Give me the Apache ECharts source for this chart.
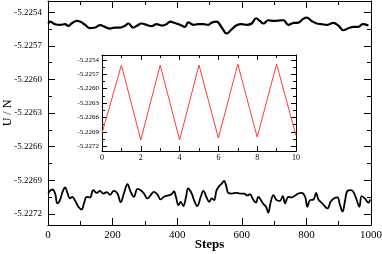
<!DOCTYPE html>
<html><head><meta charset="utf-8">
<script src="https://cdn.jsdelivr.net/npm/echarts@6/dist/echarts.min.js"></script>
<style>html,body{margin:0;padding:0;background:#fff}#c{width:382px;height:254px}</style>
</head><body><div id="c"></div>
<script>
// ---- data ----
const stepsTop = [1,6,22,37,53,63,73,89,99,115,130,146,161,176,192,207,223,238,249,264,275,290,305,321,336,352,367,378,393,409,424,434,450,465,481,496,507,522,538,553,569,584,600,615,631,644,656,667,682,698,713,729,744,760,775,790,801,816,832,847,863,883,899,914,930,945,961,974,992];
const uTop = [-5.225501,-5.225484,-5.225507,-5.225513,-5.225507,-5.225522,-5.225501,-5.225478,-5.225484,-5.225513,-5.225543,-5.225537,-5.225516,-5.225531,-5.225546,-5.225537,-5.225537,-5.225522,-5.225501,-5.225537,-5.225522,-5.225501,-5.225513,-5.225525,-5.225507,-5.225519,-5.225507,-5.225484,-5.225496,-5.225513,-5.225531,-5.225490,-5.225513,-5.225507,-5.225507,-5.225513,-5.225493,-5.225484,-5.225537,-5.225590,-5.225552,-5.225516,-5.225507,-5.225513,-5.225501,-5.225454,-5.225478,-5.225501,-5.225472,-5.225478,-5.225475,-5.225472,-5.225513,-5.225496,-5.225493,-5.225460,-5.225448,-5.225478,-5.225501,-5.225507,-5.225513,-5.225496,-5.225519,-5.225561,-5.225543,-5.225531,-5.225531,-5.225507,-5.225519];
const stepsBottom = [1,6,14,22,29,37,45,53,60,68,75,84,94,104,112,120,130,140,151,161,171,182,192,204,215,225,235,246,256,266,277,287,297,308,318,328,338,349,359,373,383,390,396,404,411,419,427,434,445,452,462,473,481,491,499,507,514,522,530,538,545,551,558,569,584,594,607,617,625,635,644,651,658,667,675,682,689,698,708,718,727,734,744,754,765,775,785,796,803,811,822,830,837,844,854,865,875,885,896,904,912,919,927,937,945,954,964,971,981,992,997];
const uBottom = [-5.227019,-5.226995,-5.226983,-5.227019,-5.227107,-5.227078,-5.227004,-5.226965,-5.227013,-5.227063,-5.227048,-5.227084,-5.227137,-5.227161,-5.227101,-5.227048,-5.227054,-5.226989,-5.227013,-5.226995,-5.227019,-5.227007,-5.227030,-5.226995,-5.227019,-5.227096,-5.227019,-5.226936,-5.227004,-5.227048,-5.226977,-5.226989,-5.227019,-5.227063,-5.227033,-5.227004,-5.227024,-5.227072,-5.227048,-5.227036,-5.227024,-5.227001,-5.227048,-5.227122,-5.227093,-5.227131,-5.227054,-5.226974,-5.227019,-5.227078,-5.227131,-5.227048,-5.226995,-5.227054,-5.227093,-5.227063,-5.227078,-5.226989,-5.226953,-5.226930,-5.226906,-5.226944,-5.227013,-5.227019,-5.227013,-5.227019,-5.227019,-5.227036,-5.227024,-5.227072,-5.227101,-5.227048,-5.227072,-5.227113,-5.227137,-5.227190,-5.227101,-5.227033,-5.227078,-5.227084,-5.227042,-5.227107,-5.227048,-5.227054,-5.227036,-5.227019,-5.227013,-5.227048,-5.227137,-5.227078,-5.227072,-5.227013,-5.227072,-5.227093,-5.227122,-5.227152,-5.227093,-5.227063,-5.227054,-5.227122,-5.227181,-5.227093,-5.226995,-5.226989,-5.227004,-5.227063,-5.227137,-5.227042,-5.227063,-5.227101,-5.227072];
const insetX = [0,1,2,3,4,5,6,7,8,9,10];
const insetU = [-5.22693,-5.22551,-5.22707,-5.22551,-5.22707,-5.22551,-5.22703,-5.22549,-5.22701,-5.22549,-5.22698];
const yTickLabels = ['-5.2254','-5.2257','-5.2260','-5.2263','-5.2266','-5.2269','-5.2272'];
const yMin = -5.2273, yMax = -5.2253;

// ---- build ----
const majors = yTickLabels.map(Number);
const minors = majors.map(v => v - 0.00015).concat([majors[0] + 0.00015]).filter(v => v > yMin && v < yMax);
const FONT = 'Liberation Serif';
const black = '#000';

function xAx(grid, pos, max, interval, showLabel, fs) {
  return {
    type: 'value', gridIndex: grid, position: pos, min: 0, max: max, interval: interval,
    axisLine: {show: true, onZero: false, lineStyle: {color: black, width: 1}},
    axisTick: {show: true, inside: true, length: grid === 0 ? 7 : 5, lineStyle: {color: black}},
    minorTick: {show: true, splitNumber: 2, length: grid === 0 ? 4 : 3, lineStyle: {color: black}},
    splitLine: {show: false}, minorSplitLine: {show: false},
    axisLabel: {show: showLabel, color: black, fontFamily: FONT, fontSize: fs, margin: grid === 0 ? 5 : 3,
      formatter: v => String(v)}
  };
}
function yAx(grid, pos, vals, len, showLabel, showLine, fs, extra) {
  return Object.assign({
    type: 'value', gridIndex: grid, position: pos, min: yMin, max: yMax,
    axisLine: {show: showLine, onZero: false, lineStyle: {color: black, width: 1}},
    axisTick: {show: true, inside: true, length: len, customValues: vals, lineStyle: {color: black}},
    splitLine: {show: false},
    axisLabel: {show: showLabel, customValues: vals, color: black, fontFamily: FONT, fontSize: fs,
      margin: grid === 0 ? 6 : 3, formatter: v => v.toFixed(4)}
  }, extra || {});
}

const option = {
  animation: false,
  backgroundColor: '#fff',
  grid: [
    {left: 48, right: 11, top: 1, bottom: 29, outerBoundsMode: 'none', containLabel: false},
    {left: 102, top: 55, width: 194, height: 96, outerBoundsMode: 'none', containLabel: false}
  ],
  xAxis: [
    Object.assign(xAx(0, 'bottom', 1000, 200, true, 11), {name: 'Steps', nameLocation: 'middle', nameGap: 13,
      nameMoveOverlap: false,
      nameTextStyle: {fontFamily: FONT, fontSize: 13, fontWeight: 'bold', color: black, verticalAlign: 'top'}}),
    xAx(0, 'top', 1000, 200, false, 11),
    xAx(1, 'bottom', 10, 2, true, 8),
    xAx(1, 'top', 10, 2, false, 8)
  ],
  yAxis: [
    yAx(0, 'left', majors, 7, true, true, 9, {name: 'U / N', nameLocation: 'middle', nameGap: 34, nameRotate: 90,
      nameMoveOverlap: false,
      nameTextStyle: {fontFamily: FONT, fontSize: 12, color: black}}),
    yAx(0, 'left', minors, 4, false, false, 9),
    yAx(0, 'right', majors, 7, false, true, 9),
    yAx(0, 'right', minors, 4, false, false, 9),
    yAx(1, 'left', majors, 5, true, true, 7),
    yAx(1, 'left', minors, 3, false, false, 7),
    yAx(1, 'right', majors, 5, false, true, 7),
    yAx(1, 'right', minors, 3, false, false, 7)
  ],
  series: [
    {type: 'line', xAxisIndex: 0, yAxisIndex: 0, data: stepsTop.map((s, i) => [s, uTop[i]]),
      showSymbol: false, smooth: 0.4, lineStyle: {color: black, width: 2.2}},
    {type: 'line', xAxisIndex: 0, yAxisIndex: 0, data: stepsBottom.map((s, i) => [s, uBottom[i]]),
      showSymbol: false, smooth: 0.4, lineStyle: {color: black, width: 1.8}},
    {type: 'line', xAxisIndex: 2, yAxisIndex: 4, data: insetX.map((s, i) => [s, insetU[i]]),
      showSymbol: false, lineStyle: {color: '#ff3a3a', width: 1}}
  ]
};
const chart = echarts.init(document.getElementById('c'), null, {renderer: 'canvas'});
chart.setOption(option);
</script></body></html>
